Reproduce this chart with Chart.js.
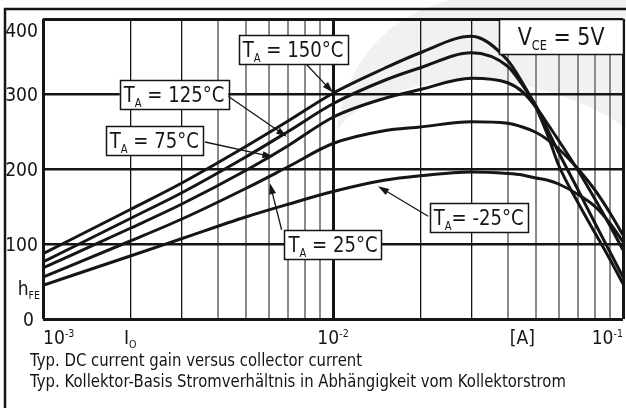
<!DOCTYPE html>
<html>
<head>
<meta charset="utf-8">
<script src="https://cdn.jsdelivr.net/npm/chart.js@4.4.1/dist/chart.umd.min.js"></script>
<style>
  html, body { margin: 0; padding: 0; background: #fff; }
  canvas { display: block; }
</style>
</head>
<body>
<canvas id="chart" width="626" height="408"></canvas>
<script>
// Collector current [A]
const currentA = [0.001, 0.002, 0.003, 0.005, 0.007, 0.01, 0.015, 0.02, 0.03, 0.04, 0.045, 0.05, 0.055, 0.06, 0.07, 0.08, 0.09, 0.1];

// DC current gain hFE for each ambient temperature
const hfe150 = [87, 146, 181, 230, 264, 301, 334, 355, 377, 345, 315, 283, 245, 205, 155, 115, 80, 47];
const hfe125 = [76, 134, 168, 216, 250, 287, 318, 335, 355, 337, 312, 285, 252, 222, 172, 128, 90, 56];
const hfe75  = [68, 121, 153, 198, 231, 269, 294, 306, 321, 315, 303, 283, 260, 238, 198, 160, 125, 92];
const hfe25  = [56, 104, 133, 174, 203, 234, 251, 256, 263, 261, 256, 249, 239, 227, 200, 172, 142, 112];
const hfeM25 = [45, 84, 107, 136, 153, 170, 185, 191, 196, 194, 192, 188, 185, 180, 166, 150, 128, 103];

// Axes
const xGrid = [0.001, 0.002, 0.003, 0.004, 0.005, 0.006, 0.007, 0.008, 0.009,
               0.01, 0.02, 0.03, 0.04, 0.05, 0.06, 0.07, 0.08, 0.09, 0.1];
const yTicks = [0, 100, 200, 300, 400];
const xLabelValues = [0.001, 0.002, 0.01, 0.045, 0.1];
const xLabelTexts = [
    [['10', ''], ['-3', 'sup']],
    [['I', ''], ['O', 'sub']],
    [['10', ''], ['-2', 'sup']],
    [['[A]', '']],
    [['10', ''], ['-1', 'sup']]
];
const yAxisName = [['h', ''], ['FE', 'sub']];
const yAxisNameAt = 32;

// Temperature callouts: text, box centre, arrow start and arrow tip (A, hFE)
const calloutTexts = [
    [['T', ''], ['A', 'sub'], [' = 150°C', '']],
    [['T', ''], ['A', 'sub'], [' = 125°C', '']],
    [['T', ''], ['A', 'sub'], [' = 75°C', '']],
    [['T', ''], ['A', 'sub'], [' = 25°C', '']],
    [['T', ''], ['A', 'sub'], ['= -25°C', '']]
];
const calloutAt   = [[0.00728, 359], [0.00283, 299], [0.00242, 238], [0.0100, 99], [0.0318, 135]];
const arrowFrom   = [[0.00812, 339], [0.00435, 297], [0.00362, 236], [0.00665, 119], [0.0213, 137]];
const arrowTo     = [[0.0100, 302], [0.00694, 243], [0.00623, 216], [0.00606, 181], [0.0143, 177]];
const conditionText = [['V', ''], ['CE', 'sub'], [' = 5V', '']];

const captions = [
    'Typ. DC current gain versus collector current',
    'Typ. Kollektor-Basis Stromverhältnis in Abhängigkeit vom Kollektorstrom'
];

const FAMILY = '"DejaVu Sans", sans-serif';
const SX = 0.86;   // narrow the glyphs a bit, the original uses a Tahoma-like face
const INK = '#151515';

function partFont(size, kind) {
    return (kind ? size * 0.55 : size).toFixed(1) + 'px ' + FAMILY;
}

function richWidth(ctx, parts, size) {
    let w = 0;
    parts.forEach(([t, k]) => {
        ctx.font = partFont(size, k);
        w += ctx.measureText(t).width;
    });
    return w * SX;
}

function drawRich(ctx, parts, x, y, size, align) {
    const w = richWidth(ctx, parts, size);
    const x0 = align === 'center' ? x - w / 2 : align === 'right' ? x - w : x;
    ctx.save();
    ctx.translate(x0, y);
    ctx.scale(SX, 1);
    ctx.textAlign = 'left';
    ctx.textBaseline = 'alphabetic';
    ctx.fillStyle = INK;
    let cx = 0;
    parts.forEach(([t, k]) => {
        ctx.font = partFont(size, k);
        const dy = k === 'sub' ? size * 0.22 : k === 'sup' ? -size * 0.36 : 0;
        ctx.fillText(t, cx, dy);
        cx += ctx.measureText(t).width;
    });
    ctx.restore();
    return w;
}

function drawArrow(ctx, x1, y1, x2, y2) {
    const a = Math.atan2(y2 - y1, x2 - x1);
    const len = 11, half = 3.5;
    ctx.save();
    ctx.strokeStyle = INK;
    ctx.fillStyle = INK;
    ctx.lineWidth = 1.3;
    ctx.beginPath();
    ctx.moveTo(x1, y1);
    ctx.lineTo(x2 - Math.cos(a) * len * 0.8, y2 - Math.sin(a) * len * 0.8);
    ctx.stroke();
    ctx.beginPath();
    ctx.moveTo(x2, y2);
    ctx.lineTo(x2 - Math.cos(a) * len - Math.sin(a) * half, y2 - Math.sin(a) * len + Math.cos(a) * half);
    ctx.lineTo(x2 - Math.cos(a) * len + Math.sin(a) * half, y2 - Math.sin(a) * len - Math.cos(a) * half);
    ctx.closePath();
    ctx.fill();
    ctx.restore();
}

function drawBox(ctx, x, y, w, h) {
    ctx.save();
    ctx.fillStyle = '#fff';
    ctx.fillRect(x, y, w, h);
    ctx.strokeStyle = INK;
    ctx.lineWidth = 1.5;
    ctx.strokeRect(Math.round(x) + 0.5, Math.round(y) + 0.5, Math.round(w), Math.round(h));
    ctx.restore();
}

const decorations = {
    id: 'decorations',
    beforeDraw(chart) {
        // faint watermark swoosh behind the plot and the outer frame
        const ctx = chart.ctx;
        ctx.save();
        ctx.fillStyle = '#f1f1f1';
        ctx.beginPath();
        ctx.moveTo(337, 130);
        ctx.bezierCurveTo(345, 70, 380, 18, 450, 0);
        ctx.lineTo(626, 0);
        ctx.lineTo(626, 128);
        ctx.bezierCurveTo(580, 95, 500, 72, 440, 82);
        ctx.bezierCurveTo(392, 90, 355, 105, 337, 130);
        ctx.closePath();
        ctx.fill();

        const a = chart.chartArea;
        ctx.strokeStyle = INK;
        ctx.lineWidth = 2.5;
        ctx.beginPath();
        ctx.moveTo(a.left - 38, chart.height);
        ctx.lineTo(a.left - 38, a.top - 10);
        ctx.lineTo(chart.width, a.top - 10);
        ctx.stroke();
        ctx.restore();
    },
    afterDatasetsDraw(chart) {
        const ctx = chart.ctx;
        const xs = chart.scales.x, ys = chart.scales.y;
        const a = chart.chartArea;

        // arrows, then the white callout boxes on top of them
        arrowFrom.forEach((p, i) => {
            drawArrow(ctx, xs.getPixelForValue(p[0]), ys.getPixelForValue(p[1]),
                xs.getPixelForValue(arrowTo[i][0]), ys.getPixelForValue(arrowTo[i][1]));
        });
        calloutTexts.forEach((parts, i) => {
            const size = 21;
            const w = richWidth(ctx, parts, size);
            const cx = xs.getPixelForValue(calloutAt[i][0]);
            const cy = ys.getPixelForValue(calloutAt[i][1]);
            drawBox(ctx, cx - w / 2 - 4, cy - 14.5, w + 8, 29);
            drawRich(ctx, parts, cx, cy + size * 0.36, size, 'center');
        });

        // V_CE condition box in the upper right corner
        const cw = richWidth(ctx, conditionText, 24);
        const bw = cw + 37, bh = 35;
        const bx = xs.getPixelForValue(0.1) - bw, by = ys.getPixelForValue(400);
        drawBox(ctx, bx, by, bw, bh);
        drawRich(ctx, conditionText, bx + bw / 2, by + bh / 2 + 24 * 0.36, 24, 'center');

        // y tick labels and axis name
        yTicks.forEach(v => {
            let py = ys.getPixelForValue(v);
            if (v === ys.max) py += 11;
            drawRich(ctx, [[String(v), '']], a.left - (v === 0 ? 9 : 5), py + 7, 20, 'right');
        });
        drawRich(ctx, yAxisName, a.left - 3, ys.getPixelForValue(yAxisNameAt), 20, 'right');

        // x tick labels
        xLabelValues.forEach((v, i) => {
            const align = i === 0 ? 'left' : i === xLabelValues.length - 1 ? 'right' : 'center';
            drawRich(ctx, xLabelTexts[i], xs.getPixelForValue(v), a.bottom + 25, 20, align);
        });

        // captions
        captions.forEach((t, i) => {
            drawRich(ctx, [[t, '']], a.left - 13, a.bottom + 47 + i * 21, 17.3, 'left');
        });
    }
};

function gridStyle(v) {
    const m = Math.round(v / Math.pow(10, Math.floor(Math.log10(v) + 1e-9)));
    if (m === 1) return { w: 3, c: INK };
    if (m === 2 || m === 3) return { w: 1.3, c: INK };
    return { w: 2, c: '#8a8a8a' };
}

const series = [hfe150, hfe125, hfe75, hfe25, hfeM25];

new Chart(document.getElementById('chart'), {
    type: 'line',
    data: {
        datasets: series.map(vals => ({
            data: currentA.map((x, i) => ({ x: x, y: vals[i] })),
            borderColor: INK,
            borderWidth: 3,
            pointRadius: 0,
            fill: false,
            cubicInterpolationMode: 'monotone'
        }))
    },
    options: {
        responsive: false,
        animation: false,
        events: [],
        layout: { padding: { top: 19, right: 3, left: 0, bottom: 0 } },
        plugins: { legend: { display: false }, tooltip: { enabled: false } },
        scales: {
            x: {
                type: 'logarithmic',
                min: 0.001,
                max: 0.1,
                afterBuildTicks: s => { s.ticks = xGrid.map(v => ({ value: v })); },
                afterFit: s => { s.height = 89; },
                ticks: { display: false },
                border: { display: false },
                grid: {
                    drawTicks: false,
                    color: c => gridStyle(c.tick.value).c,
                    lineWidth: c => gridStyle(c.tick.value).w
                }
            },
            y: {
                min: 0,
                max: 400,
                afterBuildTicks: s => { s.ticks = yTicks.map(v => ({ value: v })); },
                afterFit: s => { s.width = 43; },
                ticks: { display: false },
                border: { display: false },
                grid: {
                    drawTicks: false,
                    color: INK,
                    lineWidth: c => (c.tick.value === 0 || c.tick.value === 400) ? 3 : 2.5
                }
            }
        }
    },
    plugins: [decorations]
});
</script>
</body>
</html>
